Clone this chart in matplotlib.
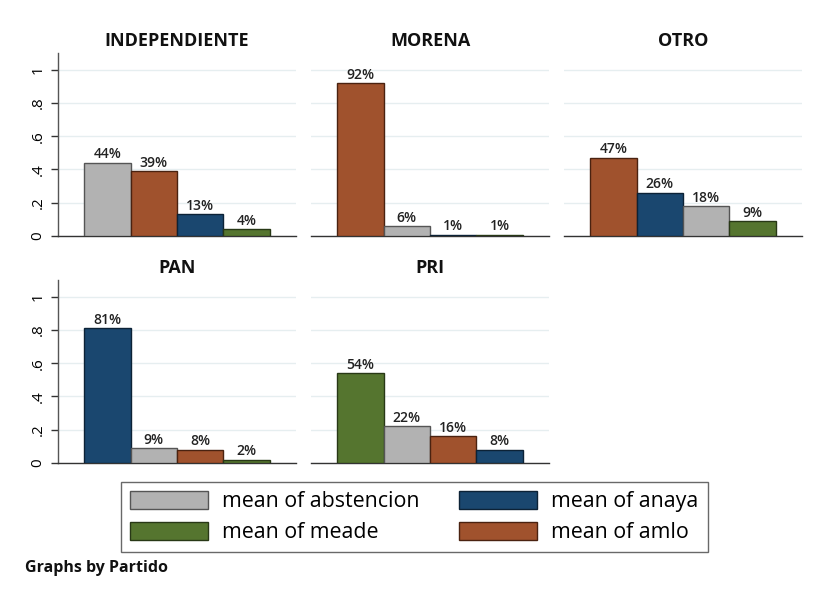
"""Bar chart of mean vote share by party, one panel per Partido."""

import matplotlib

matplotlib.use("Agg")
import matplotlib.pyplot as plt
from matplotlib.patches import Patch

plt.rcParams["font.family"] = ["Open Sans", "DejaVu Sans"]

# data
partidos = ["INDEPENDIENTE", "MORENA", "OTRO", "PAN", "PRI"]
variables = ["abstencion", "anaya", "meade", "amlo"]
abstencion = [0.44, 0.06, 0.18, 0.09, 0.22]
anaya = [0.13, 0.008, 0.26, 0.81, 0.08]
meade = [0.04, 0.007, 0.09, 0.02, 0.54]
amlo = [0.39, 0.92, 0.47, 0.08, 0.16]
y_ticks = [0, 0.2, 0.4, 0.6, 0.8, 1.0]
y_tick_labels = ["0", ".2", ".4", ".6", ".8", "1"]

colors = {
    "abstencion": ("#b2b2b2", "#555555"),
    "anaya": ("#1a476f", "#0c2236"),
    "meade": ("#55752f", "#283816"),
    "amlo": ("#a0522d", "#4a2210"),
}
series = {"abstencion": abstencion, "anaya": anaya, "meade": meade, "amlo": amlo}

W, H = 830, 603
fig = plt.figure(figsize=(W / 100, H / 100), dpi=100)

# panel boxes in pixels: (left, bottom)
lefts = [58, 311, 564]
bottoms = [236, 463]
pw, ph = 238, 183

for k, partido in enumerate(partidos):
    row, col = divmod(k, 3)
    ax = fig.add_axes([lefts[col] / W, 1 - bottoms[row] / H, pw / W, ph / H])
    values = [(v, series[v][k]) for v in variables]
    values.sort(key=lambda item: -item[1])
    for i, (name, val) in enumerate(values):
        face, edge = colors[name]
        bars = ax.bar(i, val, width=1.0, color=face, edgecolor=edge, linewidth=1.0, zorder=3)
        ax.bar_label(bars, labels=[f"{max(round(val * 100), 1):.0f}%"],
                     padding=1, fontsize=10, fontweight="semibold", color="#222222")
    ax.set_xlim(-1.07, 4.07)
    ax.set_ylim(0, 1.1)
    ax.set_yticks(y_ticks)
    ax.grid(True, axis="y", color="#e6eef0", linewidth=1.0, zorder=0)
    ax.set_xticks([])
    for side in ["top", "right"]:
        ax.spines[side].set_visible(False)
    ax.spines["bottom"].set_color("#333333")
    ax.spines["bottom"].set_linewidth(1.0)
    if col == 0:
        ax.set_yticklabels(y_tick_labels, rotation=90, va="center", fontsize=11)
        ax.spines["left"].set_color("#555555")
        ax.spines["left"].set_linewidth(1.0)
        ax.tick_params(axis="y", length=5, width=1, color="#333333", pad=4)
    else:
        ax.spines["left"].set_visible(False)
        ax.tick_params(axis="y", length=0, labelleft=False)
    ax.set_title(partido, fontsize=13, fontweight="bold", pad=5, color="#111111")

order = ["abstencion", "meade", "anaya", "amlo"]
handles = [Patch(facecolor=colors[v][0], edgecolor=colors[v][1], linewidth=1.0) for v in order]
labels = [f"mean of {v}" for v in order]
leg = fig.legend(handles, labels, ncol=2, loc="center", bbox_to_anchor=(414.5 / W, 1 - 517 / H),
                 frameon=True, fancybox=False, fontsize=15.4, handlelength=3.65, handleheight=0.93,
                 columnspacing=1.85, handletextpad=0.65, labelspacing=0.43, borderpad=0.42,
                 borderaxespad=0)
leg.get_frame().set_edgecolor("#444444")
leg.get_frame().set_linewidth(1.0)

fig.text(25 / W, 1 - 568 / H, "Graphs by Partido", fontsize=11.5, fontweight="bold",
         va="center", ha="left", color="#111111")

fig.savefig("out.png", dpi=100)
